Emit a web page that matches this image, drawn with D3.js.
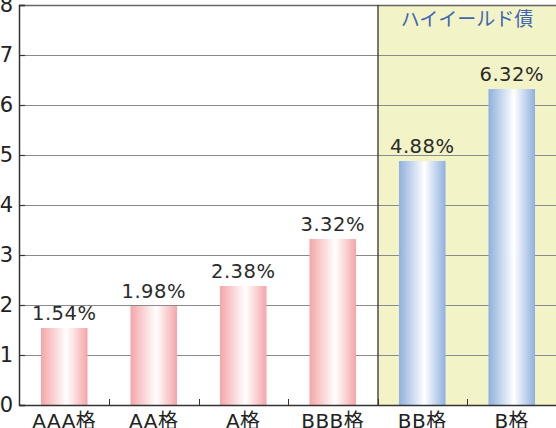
<!DOCTYPE html>
<html>
<head>
<meta charset="utf-8">
<script src="https://cdn.jsdelivr.net/npm/d3@7"></script>
<style>
  body { margin: 0; background: #fff; }
  svg { display: block; }
  text { font-family: "DejaVu Sans", "Noto Sans CJK JP", sans-serif; }
</style>
</head>
<body>
<svg id="chart"></svg>
<script>
// data
const categories = ["AAA格", "AA格", "A格", "BBB格", "BB格", "B格"];
const values = [1.54, 1.98, 2.38, 3.32, 4.88, 6.32];
const highYield = ["BB格", "B格"];
const yTicks = [0, 1, 2, 3, 4, 5, 6, 7, 8];
const highlightLabel = "ハイイールド債";

const W = 556, H = 428;
const margin = { top: 5, right: 0, bottom: 23, left: 19 };
const plotRight = 556.5;

let svg = d3.select("#chart").attr("width", W).attr("height", H);

let defs = svg.append("defs");
function addGrad(id, edge) {
    let g = defs.append("linearGradient").attr("id", id)
        .attr("x1", "0%").attr("x2", "100%").attr("y1", "0%").attr("y2", "0%");
    g.append("stop").attr("offset", "0%").attr("stop-color", edge);
    g.append("stop").attr("offset", "55%").attr("stop-color", "#ffffff");
    g.append("stop").attr("offset", "100%").attr("stop-color", edge);
}
addGrad("pink", "#f5a5a8");
addGrad("blue", "#8fb0de");

const y = d3.scaleLinear().domain([0, 8]).range([H - margin.bottom, margin.top]);

// category slots
const xSlot = d3.scaleBand().domain(categories).range([margin.left + 0.5, plotRight]).padding(0);
// bars
const x = d3.scaleBand().domain(categories).range([margin.left + 0.5, plotRight])
    .paddingInner(0.48).paddingOuter(0.24);

// highlighted region
let hx = Math.round(xSlot(highYield[0]));
svg.append("rect")
    .attr("x", hx).attr("y", y(8))
    .attr("width", W - hx).attr("height", y(0) - y(8))
    .attr("fill", "#f2f3c6");

// grid lines
svg.append("g").selectAll("line")
    .data(yTicks.filter(d => d > 0))
    .join("line")
    .attr("x1", margin.left).attr("x2", W)
    .attr("y1", d => y(d) + 0.5).attr("y2", d => y(d) + 0.5)
    .attr("stroke", d => d === 8 ? "#666" : "#8a8a8a")
    .attr("stroke-width", d => d === 8 ? 1.5 : 1);

// region divider
svg.append("line")
    .attr("x1", hx).attr("x2", hx)
    .attr("y1", y(8)).attr("y2", y(0))
    .attr("stroke", "#333").attr("stroke-width", 1.3);

svg.append("text")
    .attr("x", (hx + W) / 2)
    .attr("y", 26)
    .attr("text-anchor", "middle")
    .attr("fill", "#3d66b3")
    .style("font-family", "\"Noto Sans CJK JP\", sans-serif")
    .style("font-size", "19px")
    .text(highlightLabel);

// bars
svg.append("g").selectAll("rect")
    .data(categories)
    .join("rect")
    .attr("x", d => x(d))
    .attr("y", (d, i) => y(values[i]))
    .attr("width", x.bandwidth())
    .attr("height", (d, i) => y(0) - y(values[i]))
    .attr("fill", d => highYield.includes(d) ? "url(#blue)" : "url(#pink)");

// value labels
svg.append("g").selectAll("text")
    .data(categories)
    .join("text")
    .attr("x", d => x(d) + x.bandwidth() / 2)
    .attr("y", (d, i) => y(values[i]) - 8)
    .attr("text-anchor", "middle")
    .attr("fill", "#2b2b2b")
    .style("font-size", "19.5px")
    .style("letter-spacing", "0.5px")
    .text((d, i) => values[i].toFixed(2) + "%");

// y axis
let yAxis = svg.append("g")
    .attr("transform", `translate(${margin.left},0)`)
    .call(d3.axisLeft(y).tickValues(yTicks).tickSize(-6).tickFormat(d3.format("d")));
yAxis.select(".domain").attr("stroke", "#333").attr("stroke-width", 1.5);
yAxis.selectAll(".tick line").attr("stroke", "#333").attr("stroke-width", 1.2);
yAxis.selectAll(".tick text")
    .attr("x", -6)
    .attr("fill", "#222")
    .style("font-size", "21px");

// x axis
let xAxis = svg.append("g")
    .attr("transform", `translate(0,${y(0)})`)
    .call(d3.axisBottom(xSlot).tickSize(0).tickPadding(9));
xAxis.select(".domain").attr("stroke", "#333").attr("stroke-width", 1.5);
xAxis.selectAll(".tick text")
    .attr("fill", "#222")
    .style("font-size", "20px")
    .style("letter-spacing", "0.5px");

// tick marks between categories
xAxis.selectAll(".sep")
    .data(categories.slice(1))
    .join("line")
    .attr("class", "sep")
    .attr("x1", d => Math.round(xSlot(d)) + 0.5).attr("x2", d => Math.round(xSlot(d)) + 0.5)
    .attr("y1", 0).attr("y2", -6)
    .attr("stroke", "#333").attr("stroke-width", 1);
</script>
</body>
</html>
